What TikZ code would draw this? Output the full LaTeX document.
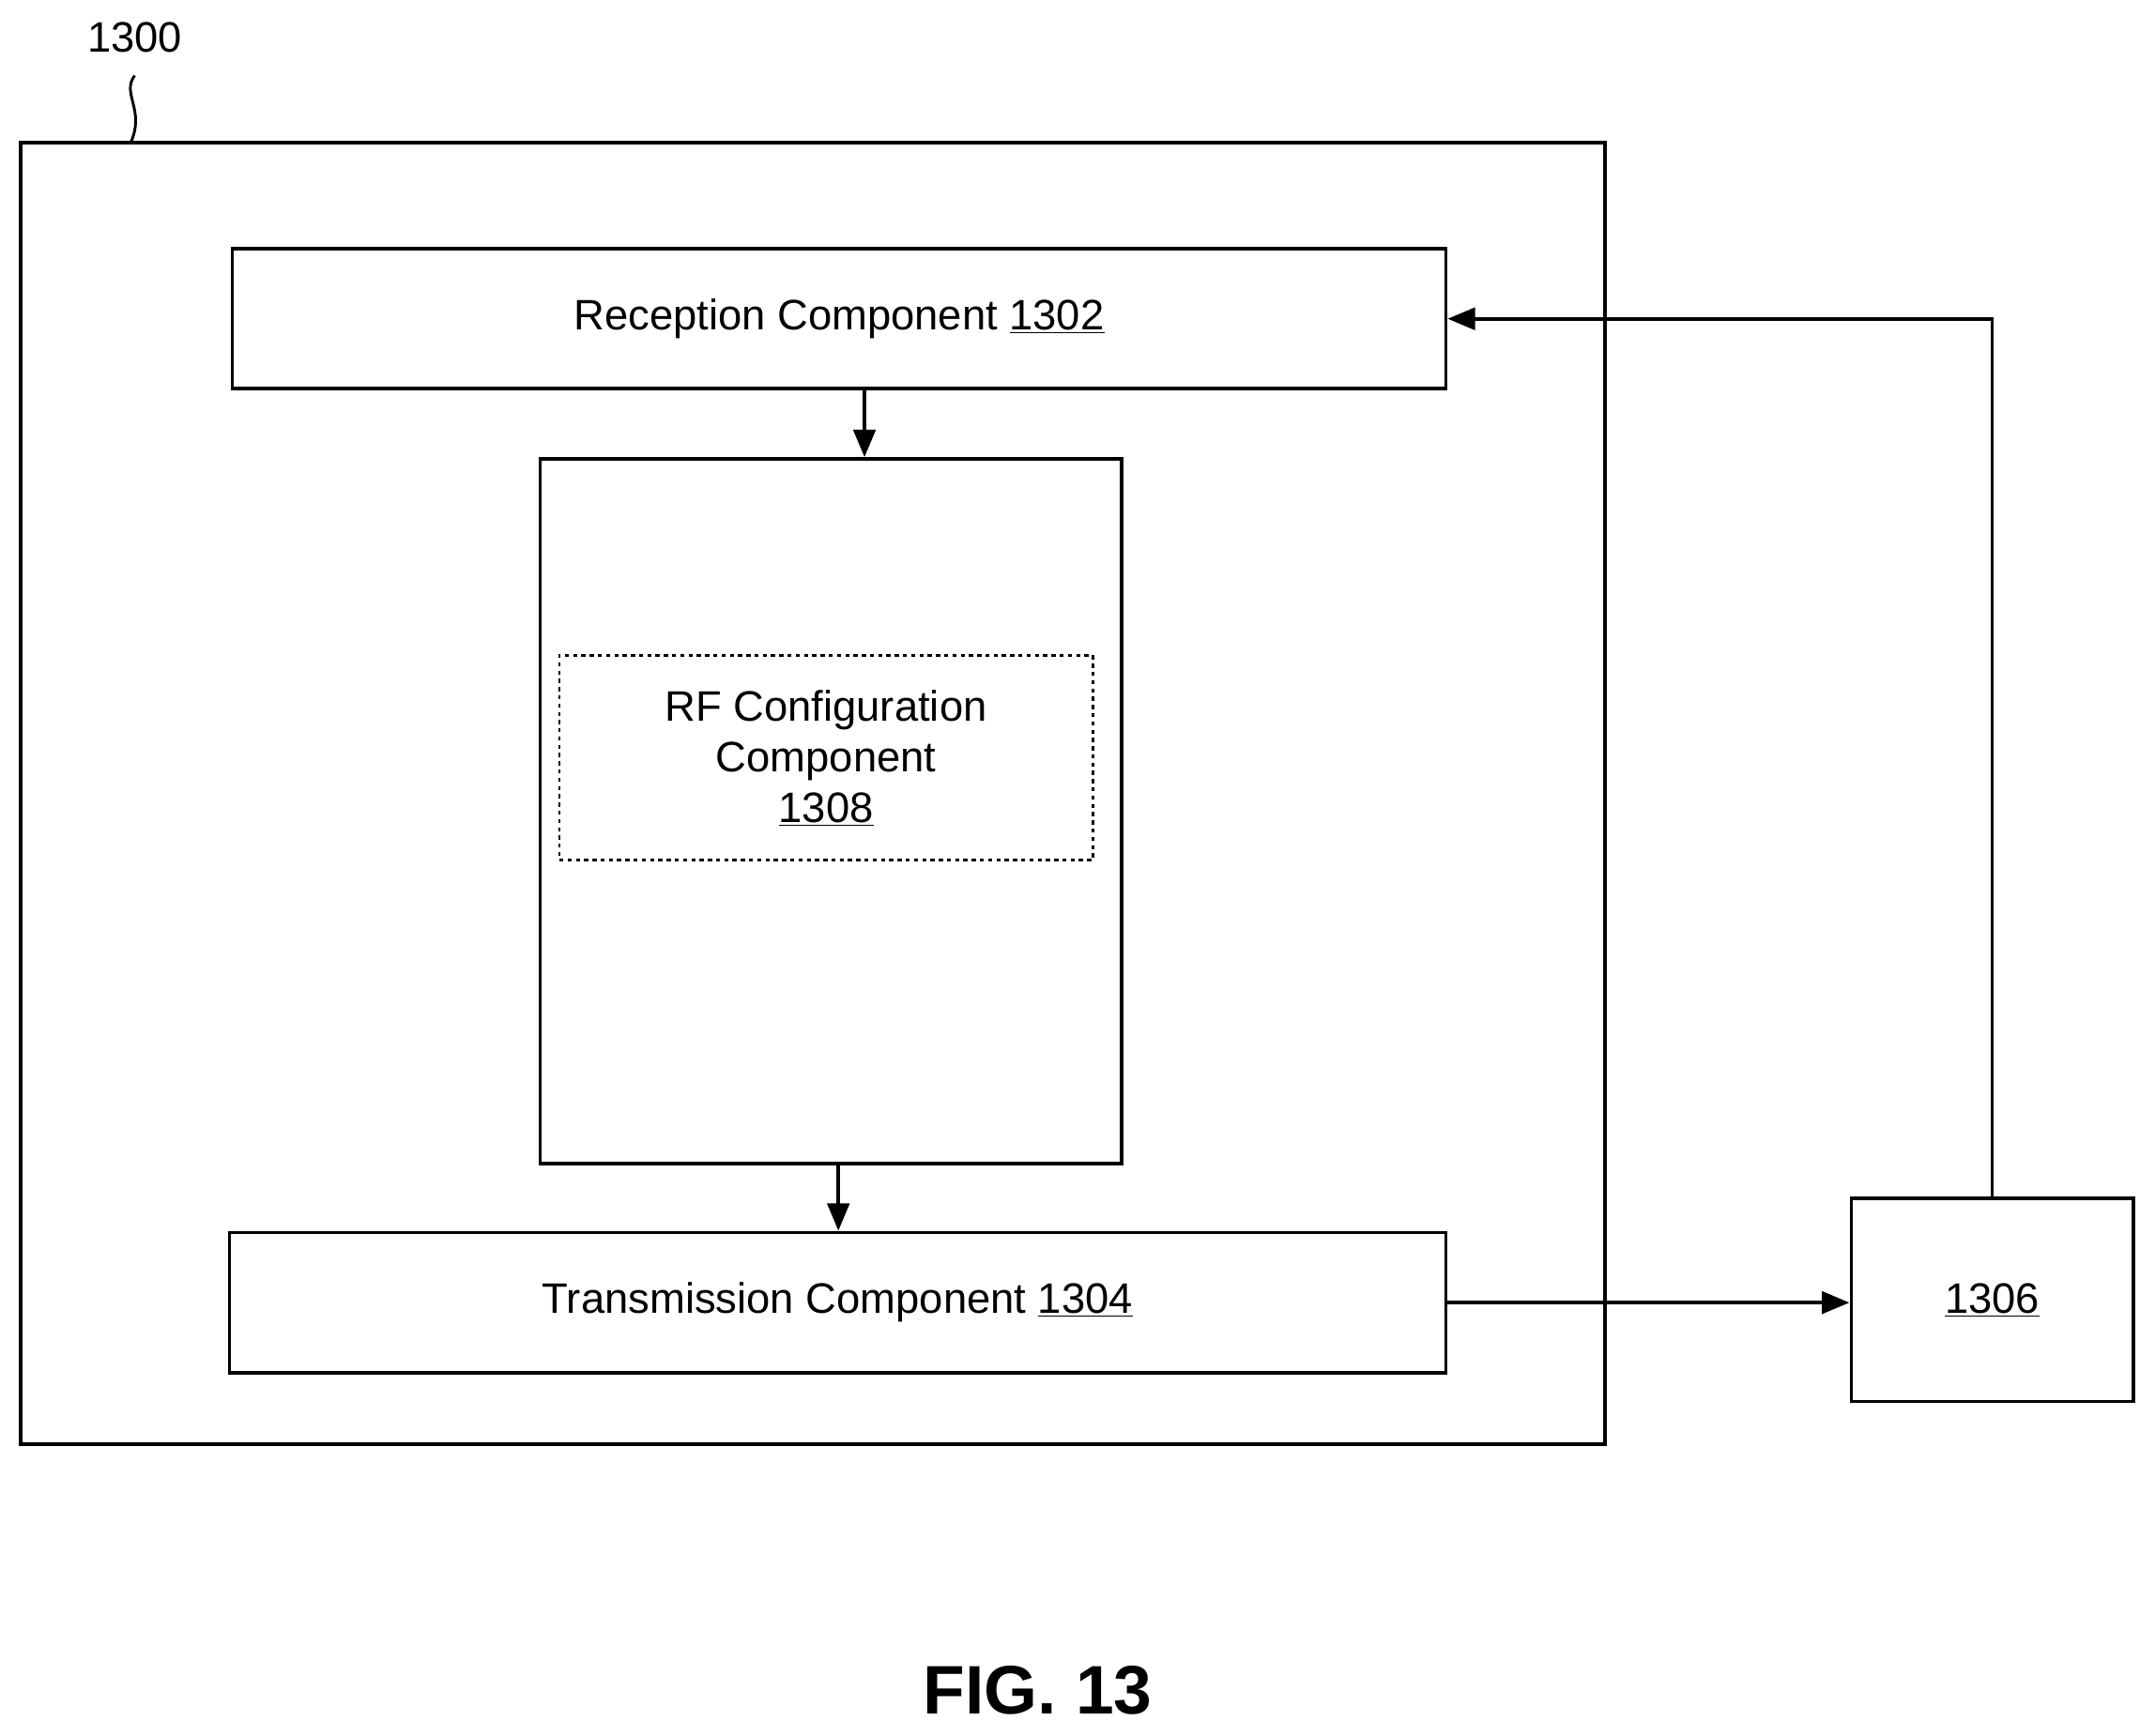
\documentclass[tikz,border=0pt]{standalone}
\usepackage{fontspec}
\setmainfont{Liberation Sans}
\usetikzlibrary{arrows.meta}
\begin{document}
\begin{tikzpicture}[x=1pt,y=-1pt,line width=2.6pt,
  box/.style={draw,rectangle},
  lbl/.style={font=\fontsize{31}{37}\selectfont,align=center},
  arr/.style={-{Triangle[length=20pt,width=16pt]}}]
\useasboundingbox (0,0) rectangle (1568,1263);
\draw (15,104) rectangle (1168,1051);
\node[lbl] (n1300) at (98,27) {1300};
\coordinate (sq) at (95,104);
\draw[line width=2pt] (98,55) .. controls (88,68) and (106,80) .. (sq);
\node[box,minimum width=883pt,minimum height=102pt,lbl] (rec) at (610.5,232) {Reception Component \underline{1302}};
\node[box,minimum width=423pt,minimum height=513pt] (mid) at (604.5,590.5) {};
\node[draw,dashed,line width=2pt,minimum width=388pt,minimum height=149pt,lbl] (rf) at (601,551.5) {RF Configuration\\Component\\\underline{1308}};
\node[box,minimum width=885pt,minimum height=102pt,lbl] (tx) at (609.5,948) {Transmission Component \underline{1304}};
\node[box,minimum width=205pt,minimum height=148pt,lbl] (ext) at (1449.5,946) {\underline{1306}};
\draw[arr] (rec.south -| 629,0) -- (mid.north -| 629,0);
\draw[arr] (mid.south -| 610,0) -- (tx.north -| 610,0);
\draw[arr] (tx.east) -- (ext.west |- tx.east);
\draw[arr] (ext.north) |- (rec.east);
\node[font=\fontsize{50}{60}\selectfont\bfseries] (fig) at (755,1230) {FIG. 13};
\end{tikzpicture}
\end{document}
